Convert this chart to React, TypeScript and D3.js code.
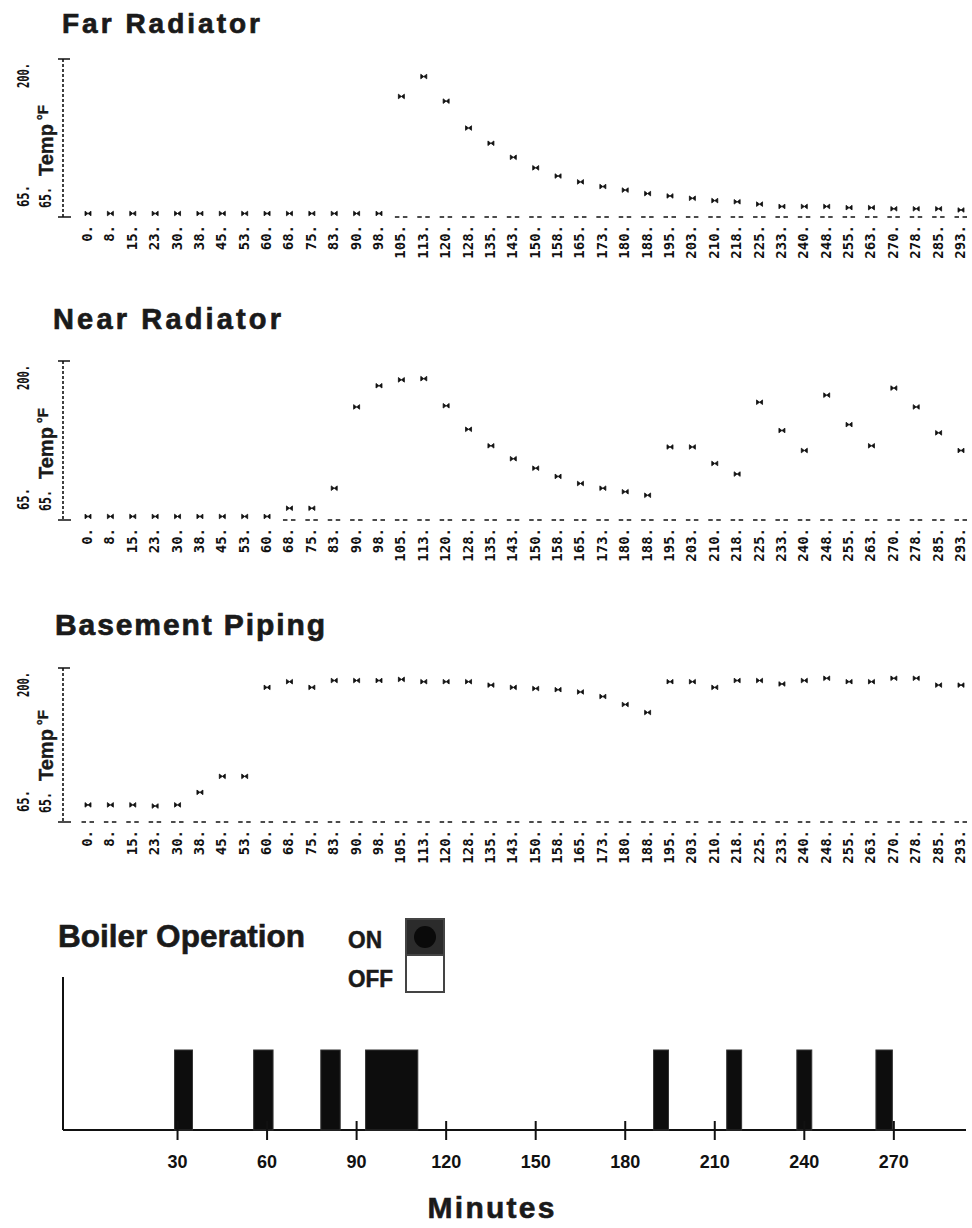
import React from 'react';
import * as d3 from 'd3';

const minuteLabels = ["0.","8.","15.","23.","30.","38.","45.","53.","60.","68.","75.","83.","90.","98.","105.","113.","120.","128.","135.","143.","150.","158.","165.","173.","180.","188.","195.","203.","210.","218.","225.","233.","240.","248.","255.","263.","270.","278.","285.","293."];

const farRadiator = [68,68,68,68,68,68,68,68,68,68,68,68,68,68,168,185,164,141,128,116,107,100,95,91,88,85,83,81,79,78,76,74,74,74,73,73,72,72,72,71];
const nearRadiator = [68,68,68,68,68,68,68,68,68,75,75,92,161,179,184,185,162,142,128,117,109,102,96,92,89,86,127,127,113,104,165,141,124,171,146,128,177,161,139,124];
const basementPiping = [80,80,80,79,80,91,105,105,183,188,183,189,189,189,190,188,188,188,185,183,182,181,179,175,168,161,188,188,183,189,189,186,189,191,188,188,191,191,185,185];

const tempMin = 65;
const tempMax = 200;
const yTickLabels = ["65.", "200."];

const boilerOnStart = [29, 55.5, 78, 93, 189.5, 214, 237.5, 264];
const boilerOnEnd = [35, 62, 84.5, 110.5, 194.5, 219, 242.5, 269.5];
const boilerTicks = [30, 60, 90, 120, 150, 180, 210, 240, 270];

const INK = '#111';
const SANS = 'Liberation Sans, Arial, sans-serif';
const MONO = 'DejaVu Sans Mono, monospace';

type Panel = {
  title: string;
  values: number[];
  top: number;
  bottom: number;
  titleX: number;
  titleY: number;
  titleW: number;
  titleSize: number;
};

const panels: Panel[] = [
  { title: 'Far Radiator', values: farRadiator, top: 59, bottom: 217, titleX: 62, titleY: 33, titleW: 198, titleSize: 28 },
  { title: 'Near Radiator', values: nearRadiator, top: 361, bottom: 520, titleX: 53, titleY: 329, titleW: 228, titleSize: 29 },
  { title: 'Basement Piping', values: basementPiping, top: 668, bottom: 822, titleX: 55, titleY: 635, titleW: 270, titleSize: 30 },
];

const x = d3.scalePoint<string>().domain(minuteLabels).range([88, 961]);
const xm = d3.scaleLinear().domain([0, 292.5]).range([88, 961]);

function TempPanel({ p }: { p: Panel }) {
  const y = d3.scaleLinear().domain([tempMin, tempMax]).range([p.bottom, p.top]);
  const axisX = 63;
  return (
    <g>
      <text x={p.titleX} y={p.titleY} fontFamily={SANS} fontWeight="bold" fontSize={p.titleSize}
        fill="#1a1a1a" stroke="#1a1a1a" strokeWidth={0.7} textLength={p.titleW} lengthAdjust="spacing">{p.title}</text>
      {/* y axis */}
      <line x1={axisX} x2={axisX} y1={p.top} y2={p.bottom} stroke={INK} strokeWidth={1.6} strokeDasharray="3 2" />
      <line x1={58} x2={70} y1={p.top} y2={p.top} stroke={INK} strokeWidth={1.5} />
      <line x1={58} x2={71} y1={p.bottom} y2={p.bottom} stroke={INK} strokeWidth={1.5} />
      {/* y labels */}
      <text transform={`translate(29,${p.top + 29}) rotate(-90)`} fontFamily={MONO} fontWeight="bold"
        fontSize={15} fill={INK} textLength={25} lengthAdjust="spacingAndGlyphs">{yTickLabels[1]}</text>
      <text transform={`translate(29,${p.bottom - 10}) rotate(-90)`} fontFamily={MONO} fontWeight="bold"
        fontSize={15} fill={INK} textLength={22} lengthAdjust="spacingAndGlyphs">{yTickLabels[0]}</text>
      <text transform={`translate(51,${p.bottom - 9}) rotate(-90)`} fontFamily={MONO} fontWeight="bold"
        fontSize={15} fill={INK} textLength={21} lengthAdjust="spacingAndGlyphs">{yTickLabels[0]}</text>
      <text transform={`translate(53,${p.bottom - 41}) rotate(-90)`} fontFamily={SANS} fontWeight="bold"
        fontSize={20} fill="#1a1a1a" stroke="#1a1a1a" strokeWidth={0.4}>Temp<tspan fontSize={15} dy={-5} dx={4}>°F</tspan></text>
      {/* baseline dashes */}
      {p.values.map((v, i) => {
        if (v <= 70) return null;
        const cx = x(minuteLabels[i])!;
        return <path key={'d' + i} d={`M${cx - 6.5},${p.bottom}h4.5M${cx + 1.5},${p.bottom}h4.5`} stroke={INK} strokeWidth={1.6} />;
      })}
      {/* markers */}
      {p.values.map((v, i) => {
        const cx = x(minuteLabels[i])!;
        const cy = y(v);
        return <path key={'m' + i}
          d={`M${cx - 3},${cy - 2.3}L${cx},${cy}L${cx - 3},${cy + 2.3}ZM${cx + 3},${cy - 2.3}L${cx},${cy}L${cx + 3},${cy + 2.3}Z`}
          fill={INK} stroke={INK} strokeWidth={0.8} />;
      })}
      {/* x tick labels */}
      {minuteLabels.map((lab) => (
        <text key={lab} transform={`translate(${x(lab)! + 4},${p.bottom + 8}) rotate(-90)`} textAnchor="end"
          fontFamily={MONO} fontWeight="bold" fontSize={14} fill={INK}>{lab}</text>
      ))}
    </g>
  );
}

function BoilerPanel() {
  const baseY = 1130;
  const barTop = 1050;
  return (
    <g>
      <text x={58} y={947} fontFamily={SANS} fontWeight="bold" fontSize={31}
        fill="#1a1a1a" stroke="#1a1a1a" strokeWidth={0.6} textLength={247} lengthAdjust="spacingAndGlyphs">Boiler Operation</text>
      <text x={348} y={948} fontFamily={SANS} fontWeight="bold" fontSize={23}
        fill="#1a1a1a" stroke="#1a1a1a" strokeWidth={0.5} textLength={34} lengthAdjust="spacingAndGlyphs">ON</text>
      <text x={348} y={987} fontFamily={SANS} fontWeight="bold" fontSize={23}
        fill="#1a1a1a" stroke="#1a1a1a" strokeWidth={0.5} textLength={45} lengthAdjust="spacingAndGlyphs">OFF</text>
      <rect x={406} y={919} width={38} height={73} fill="#fff" stroke="#444" strokeWidth={2} />
      <rect x={406} y={919} width={38} height={36} fill="#2b2b2b" stroke="#444" strokeWidth={2} />
      <circle cx={425} cy={937} r={11} fill="#0a0a0a" />
      {/* axes */}
      <line x1={63} x2={63} y1={977} y2={baseY} stroke={INK} strokeWidth={2} />
      <line x1={63} x2={966} y1={baseY} y2={baseY} stroke={INK} strokeWidth={2} />
      {boilerOnStart.map((s, i) => (
        <rect key={'b' + i} x={xm(s)} y={barTop} width={xm(boilerOnEnd[i]) - xm(s)} height={baseY - barTop}
          fill="#0d0d0d" stroke="#333" strokeWidth={1} />
      ))}
      {boilerTicks.map((t) => (
        <g key={t}>
          <line x1={xm(t)} x2={xm(t)} y1={baseY - 9} y2={baseY + 10} stroke={INK} strokeWidth={2} />
          <text x={xm(t)} y={1168} textAnchor="middle" fontFamily={SANS}
            fontWeight="bold" fontSize={18} fill={INK}>{t}</text>
        </g>
      ))}
      <text x={491} y={1218} textAnchor="middle" fontFamily={SANS} fontWeight="bold"
        fontSize={30} fill="#1a1a1a" stroke="#1a1a1a" strokeWidth={0.6} textLength={127} lengthAdjust="spacing">Minutes</text>
    </g>
  );
}

export default function App() {
  return (
    <svg width={972} height={1228} viewBox="0 0 972 1228"
      style={{ position: 'absolute', left: 0, top: 0, background: '#fff' }}>
      <rect x={0} y={0} width={972} height={1228} fill="#fff" />
      {panels.map((p) => <TempPanel key={p.title} p={p} />)}
      <BoilerPanel />
    </svg>
  );
}
